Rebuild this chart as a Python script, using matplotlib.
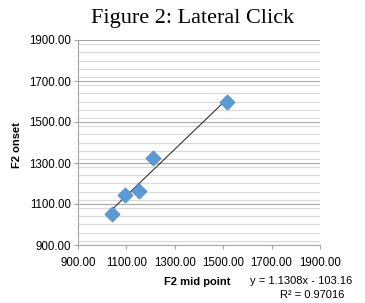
import matplotlib
matplotlib.use("Agg")
import matplotlib.pyplot as plt
import numpy as np
from matplotlib.ticker import MultipleLocator, FormatStrFormatter

# Data
f2_mid = [1039, 1094, 1153, 1210, 1517]
f2_onset = [1050, 1144, 1165, 1326, 1599]
ticks = [900, 1100, 1300, 1500, 1700, 1900]
title = "Figure 2: Lateral Click"
xlabel = "F2 mid point"
ylabel = "F2 onset"
eq_text = "y = 1.1308x - 103.16"
r2_text = "R² = 0.97016"

fig = plt.figure(figsize=(3.65, 3.03), dpi=100)
ax = fig.add_axes([78/365, 1-245/303, (320-78)/365, (245-40)/303])

ax.set_xlim(900, 1900)
ax.set_ylim(900, 1900)
ax.set_xticks(ticks)
ax.set_yticks(ticks)
ax.yaxis.set_minor_locator(MultipleLocator(40))
ax.xaxis.set_major_formatter(FormatStrFormatter('%.2f'))
ax.yaxis.set_major_formatter(FormatStrFormatter('%.2f'))

ax.grid(axis='y', which='major', color='#a6a6a6', lw=0.8)
ax.grid(axis='y', which='minor', color='#d9d9d9', lw=0.8)
ax.set_axisbelow(True)

for s in ['top', 'right']:
    ax.spines[s].set_visible(False)
for s in ['left', 'bottom']:
    ax.spines[s].set_color('#a6a6a6')
    ax.spines[s].set_linewidth(0.8)

ax.tick_params(which='major', length=3, color='#a6a6a6', width=0.8,
               labelsize=8.3, pad=2)
ax.tick_params(axis='x', which='major', pad=6)
ax.tick_params(which='minor', length=0)
for lab in ax.get_xticklabels() + ax.get_yticklabels():
    lab.set_fontfamily('Liberation Sans')

# trendline
coef = np.polyfit(f2_mid, f2_onset, 1)
xs = np.array([min(f2_mid), max(f2_mid)])
ax.plot(xs, np.polyval(coef, xs), color='#333333', lw=0.8, zorder=2)

ax.scatter(f2_mid, f2_onset, marker='D', s=60, color='#5b9bd5',
           edgecolor='#4a8ad0', linewidth=0.5, zorder=3)

fig.text(193/365, 1-18/303, title, ha='center', va='center',
         fontsize=16, family='Liberation Serif')
fig.text(197/365, 1-282/303, xlabel, ha='center', va='center',
         fontsize=8, fontweight='bold', family='Liberation Sans')
fig.text(17/365, 1-145/303, ylabel, ha='center', va='center', rotation=90,
         fontsize=8, fontweight='bold', family='Liberation Sans')
fig.text(352/365, 1-281/303, eq_text, ha='right', va='center',
         fontsize=8, family='Liberation Sans')
fig.text(344/365, 1-295/303, r2_text, ha='right', va='center',
         fontsize=8, family='Liberation Sans')

fig.savefig('out.png', dpi=100)
